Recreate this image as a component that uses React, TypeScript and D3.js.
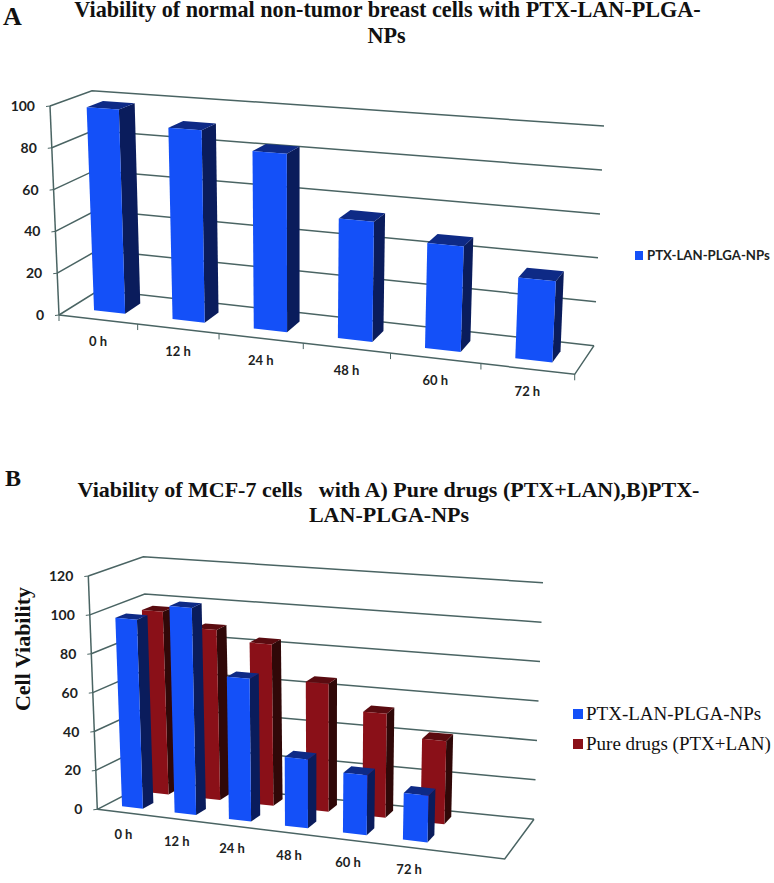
import React from 'react';
import * as d3 from 'd3';

const categories = ['0 h', '12 h', '24 h', '48 h', '60 h', '72 h'];
const valueTicksA = [0, 20, 40, 60, 80, 100];
const valueTicksB = [0, 20, 40, 60, 80, 100, 120];

const normalCells = [98, 91, 83, 55, 47.5, 36];
const mcfNps = [97.4, 106, 72.5, 34.7, 30, 23.2];
const mcfPure = [96, 88.7, 83.5, 65.7, 53, 42];

const BLUE = { front: '#1450f8', side: '#0a1c5c', top: '#0e2a86' };
const RED = { front: '#8a1018', side: '#300808', top: '#5a0b10' };
const LINE = '#4a6463';
const SANS = 'Lato, "Open Sans", sans-serif';
const SERIF = '"Liberation Serif", serif';

type Pt = [number, number];
type Frame = {
    frontBottomLeft: Pt; frontBottomRight: Pt; backBottomLeft: Pt; backBottomRight: Pt;
    frontTopLeft: Pt; frontTopRight: Pt; backTopLeft: Pt; backTopRight: Pt;
};

// box corners of the 3d plot -> function of (u along categories, v up, w into the page)
function makeProjection(f: Frame, skew: number) {
    const mix = (a: Pt, b: Pt, t: number): Pt => [a[0] + (b[0] - a[0]) * t, a[1] + (b[1] - a[1]) * t];
    return (u: number, v: number, w: number): Pt => {
        const t = (skew * u) / (1 + (skew - 1) * u); // right side is nearer to the camera
        const bottom = mix(mix(f.frontBottomLeft, f.frontBottomRight, t), mix(f.backBottomLeft, f.backBottomRight, t), w);
        const top = mix(mix(f.frontTopLeft, f.frontTopRight, t), mix(f.backTopLeft, f.backTopRight, t), w);
        return mix(bottom, top, v);
    };
}

const poly = d3.line<Pt>().curve(d3.curveLinearClosed);

type Series = { values: number[]; depth: [number, number]; color: typeof BLUE };

function Chart3D({ frame, skew, ticks, slots, series, labelGap, catTicks }: {
    frame: Frame; skew: number; ticks: number[]; slots: string[]; series: Series[]; labelGap: number; catTicks: boolean;
}) {
    const project = makeProjection(frame, skew);
    const vScale = d3.scaleLinear().domain([0, ticks[ticks.length - 1]]).range([0, 1]);
    // excel's 150% gap width
    const uScale = d3.scaleBand<string>().domain(slots).range([0, 1]).paddingInner(0.6).paddingOuter(0.3);
    const boundaries = d3.range(0, slots.length + 1).map((i) => i / slots.length);

    const bars: any[] = [];
    series.forEach((s, si) => {
        s.values.forEach((val, i) => {
            const u0 = uScale(categories[i]) as number;
            const u1 = u0 + uScale.bandwidth();
            const v = vScale(val);
            const [w0, w1] = s.depth;
            const front = [project(u0, 0, w0), project(u1, 0, w0), project(u1, v, w0), project(u0, v, w0)];
            const side = [project(u1, 0, w0), project(u1, 0, w1), project(u1, v, w1), project(u1, v, w0)];
            const top = [project(u0, v, w0), project(u1, v, w0), project(u1, v, w1), project(u0, v, w1)];
            bars.push({ key: `${si}-${i}`, order: w0 * -10 + i * 0.01, front, side, top, color: s.color });
        });
    });
    const ordered = bars.sort((a, b) => a.order - b.order);

    return (
        <g>
            {ticks.map((t) => {
                const v = vScale(t);
                const a = project(0, v, 0);
                const b = project(0, v, 1);
                const c = project(1, v, 1);
                return (
                    <g key={t}>
                        <polyline points={[a, b, c].join(' ')} fill="none" stroke={LINE} strokeWidth={1.5} />
                        <line x1={a[0] - 4} y1={a[1] + 0.5} x2={a[0]} y2={a[1]} stroke={LINE} strokeWidth={1} />
                        <text x={a[0] - 15} y={a[1] + 5} textAnchor="end" fontFamily={SANS} fontSize={14} fontWeight={700} fill="#1c2222">{t}</text>
                    </g>
                );
            })}
            <line x1={project(0, 0, 0)[0]} y1={project(0, 0, 0)[1]} x2={project(0, 1, 0)[0]} y2={project(0, 1, 0)[1]} stroke={LINE} strokeWidth={1.5} />
            <polyline points={[project(0, 0, 0), project(1, 0, 0), project(1, 0, 1)].join(' ')} fill="none" stroke={LINE} strokeWidth={1.5} />
            {catTicks && boundaries.map((u) => {
                const p = project(u, 0, 0);
                return <line key={u} x1={p[0]} y1={p[1]} x2={p[0]} y2={p[1] + 6} stroke={LINE} strokeWidth={1} />;
            })}
            {ordered.map((b) => (
                <g key={b.key}>
                    <path d={poly(b.side) as string} fill={b.color.side} />
                    <path d={poly(b.top) as string} fill={b.color.top} />
                    <path d={poly(b.front) as string} fill={b.color.front} />
                </g>
            ))}
            {categories.map((c) => {
                const p = project((uScale(c) as number) + uScale.bandwidth() / 2, 0, 0);
                return <text key={c} x={p[0]} y={p[1] + labelGap} textAnchor="middle" fontFamily={SANS} fontSize={13} fontWeight={700} fill="#1c2222">{c}</text>;
            })}
        </g>
    );
}

const frameA: Frame = {
    frontBottomLeft: [59, 315], frontBottomRight: [574.7, 374.3], backBottomLeft: [99, 290], backBottomRight: [594, 345.7],
    frontTopLeft: [50, 106], frontTopRight: [585.7, 144], backTopLeft: [92, 90.7], backTopRight: [604, 126],
};
const frameB: Frame = {
    frontBottomLeft: [97.3, 809.3], frontBottomRight: [504.7, 859], backBottomLeft: [152, 781], backBottomRight: [534, 819.3],
    frontTopLeft: [88.3, 576], frontTopRight: [514, 613], backTopLeft: [143.3, 556.7], backTopRight: [543, 582.7],
};

export default function App() {
    return (
        <svg width={774} height={883} style={{ position: 'absolute', left: 0, top: 0, background: '#fff' }}>
            <text x={3} y={25} fontFamily={SERIF} fontSize={26} fontWeight={700} fill="#111">A</text>
            <g fontFamily={SERIF} fontSize={22.2} fontWeight={700} textAnchor="middle" fill="#111">
                <text x={387.5} y={17}>Viability of normal non-tumor breast cells with PTX-LAN-PLGA-</text>
                <text x={386.5} y={43}>NPs</text>
            </g>
            <Chart3D frame={frameA} skew={0.9} ticks={valueTicksA} slots={categories}
                series={[{ values: normalCells, depth: [0.3, 0.7], color: BLUE }]} labelGap={27} catTicks />
            <rect x={635} y={251} width={8} height={9} fill={BLUE.front} />
            <text x={647} y={260} fontFamily={SANS} fontSize={13.2} fontWeight={700} fill="#1c2222">PTX-LAN-PLGA-NPs</text>

            <text x={5} y={486} fontFamily={SERIF} fontSize={24} fontWeight={700} fill="#111">B</text>
            <g fontFamily={SERIF} fontSize={22} fontWeight={700} textAnchor="middle" fill="#111">
                <text x={388.5} y={497} xmlSpace="preserve">Viability of MCF-7 cells   with A) Pure drugs (PTX+LAN),B)PTX-</text>
                <text x={389} y={522}>LAN-PLGA-NPs</text>
            </g>
            <Chart3D frame={frameB} skew={0.89} ticks={valueTicksB} slots={[...categories, '']}
                series={[
                    { values: mcfNps, depth: [0.17, 0.37], color: BLUE },
                    { values: mcfPure, depth: [0.66, 0.86], color: RED },
                ]} labelGap={27} catTicks={false} />
            <text transform="translate(30,649) rotate(-90)" textAnchor="middle" fontFamily={SERIF} fontSize={22} fontWeight={700} fill="#111">Cell Viability</text>
            <rect x={573} y={709} width={10} height={10} fill={BLUE.front} />
            <text x={586} y={720} fontFamily={SERIF} fontSize={19} fill="#111">PTX-LAN-PLGA-NPs</text>
            <rect x={573} y={739} width={10} height={10} fill={RED.front} />
            <text x={586} y={750} fontFamily={SERIF} fontSize={19} fill="#111">Pure drugs (PTX+LAN)</text>
        </svg>
    );
}
